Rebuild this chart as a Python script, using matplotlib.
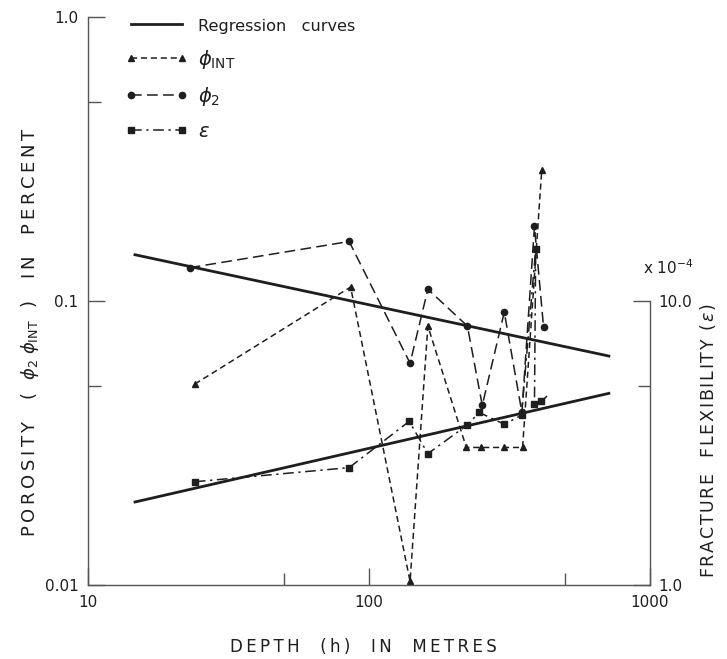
import matplotlib
matplotlib.use("Agg")
import matplotlib.pyplot as plt
from matplotlib.ticker import NullFormatter, FixedLocator
from matplotlib.lines import Line2D

plt.rcParams['font.family'] = ['DejaVu Sans']
plt.rcParams['mathtext.fontset'] = 'dejavusans'

# ---------------- data ----------------
depth_int = [24, 86, 140, 162, 222, 250, 303, 352, 412]
phi_int = [0.051, 0.112, 0.0103, 0.0816, 0.0305, 0.0305, 0.0305, 0.0305, 0.290]

depth_phi2 = [23, 85, 140, 162, 224, 253, 303, 350, 388, 418]
phi2 = [0.131, 0.162, 0.0604, 0.110, 0.0816, 0.0429, 0.0914, 0.0405, 0.183, 0.081]

depth_eps = [24, 85, 139, 162, 223, 247, 303, 349, 392, 388, 411, 436]
eps = [2.31, 2.59, 3.77, 2.90, 3.65, 4.05, 3.68, 3.96, 15.3, 4.33, 4.43, 4.69]

reg_depth = [14.7, 714]
reg_phi = [0.1455, 0.064]
reg_eps = [1.96, 4.73]

x_ticks = [10, 100, 1000]
x_ticklabels = ['10', '100', '1000']
y_ticks = [0.01, 0.1, 1.0]
y_ticklabels = ['0.01', '0.1', '1.0']
eps_ticks = [1, 10]
eps_ticklabels = ['1.0', '10.0']


def spaced(s, sp='\u2009'):
    """Letter-space the plain-text parts of a label (math parts kept intact)."""
    parts = s.split('$')
    out = []
    for i, p in enumerate(parts):
        if i % 2 == 1:
            out.append('$' + p + '$')
        else:
            out.append(sp.join(p))
    return sp.join(x for x in out if x)


# ---------------- figure ----------------
W, H = 727, 659
fig = plt.figure(figsize=(W / 100, H / 100), dpi=100)
L, R, T, B = 88, 650, 17, 585
ax = fig.add_axes([L / W, 1 - B / H, (R - L) / W, (B - T) / H])
ax2 = ax.twinx()

ink = '#1e1e1e'
spc = '#555555'

ax.set_xscale('log')
ax.set_yscale('log')
ax.set_xlim(10, 1000)
ax.set_ylim(0.01, 1.0)
ax2.set_yscale('log')
ax2.set_ylim(1, 100)

for s in ['top', 'right']:
    ax.spines[s].set_visible(False)
for s in ['top', 'left', 'bottom']:
    ax2.spines[s].set_visible(False)
ax2.spines['right'].set_bounds(1, 10)
for s in ['left', 'bottom']:
    ax.spines[s].set_color(spc)
    ax.spines[s].set_linewidth(1.0)
ax2.spines['right'].set_color(spc)
ax2.spines['right'].set_linewidth(1.0)

ax.xaxis.set_major_locator(FixedLocator(x_ticks))
ax.set_xticklabels(x_ticklabels)
ax.xaxis.set_minor_locator(FixedLocator([50, 500]))
ax.xaxis.set_minor_formatter(NullFormatter())
ax.yaxis.set_major_locator(FixedLocator(y_ticks))
ax.set_yticklabels(y_ticklabels)
ax.yaxis.set_minor_locator(FixedLocator([0.05, 0.5]))
ax.yaxis.set_minor_formatter(NullFormatter())
ax2.yaxis.set_major_locator(FixedLocator(eps_ticks))
ax2.set_yticklabels(eps_ticklabels)
ax2.yaxis.set_minor_locator(FixedLocator([5]))
ax2.yaxis.set_minor_formatter(NullFormatter())

for a in (ax, ax2):
    a.tick_params(which='major', direction='in', length=12, width=1.0,
                  color=spc, labelsize=11, labelcolor=ink)
    a.tick_params(which='minor', direction='in', length=9, width=1.0, color=spc)
ax.tick_params(axis='x', which='major', pad=7)
ax.tick_params(axis='y', which='major', pad=7)
ax2.tick_params(axis='y', which='major', pad=6)

# ---------------- data lines ----------------
lw = 1.1
ax.plot(reg_depth, reg_phi, '-', color=ink, lw=2.0)
ax2.plot(reg_depth, reg_eps, '-', color=ink, lw=2.0)
ax.plot(depth_int, phi_int, ls=(0, (4, 2.5)), color=ink, lw=lw,
        marker='^', ms=4.5, clip_on=False)
ax.plot(depth_phi2, phi2, ls=(0, (7, 3.5)), color=ink, lw=lw,
        marker='o', ms=4.5)
ax2.plot(depth_eps, eps, ls=(0, (7, 3, 1.5, 3)), color=ink, lw=lw,
         marker='s', ms=4, markevery=list(range(len(eps) - 1)))

leg_handles = [
    Line2D([], [], color=ink, lw=2.0),
    Line2D([], [], ls=(0, (4, 2.5)), color=ink, lw=lw, marker='^', ms=4),
    Line2D([], [], ls=(0, (7, 3.5)), color=ink, lw=lw, marker='o', ms=4.5),
    Line2D([], [], ls=(0, (7, 3, 1.5, 3)), color=ink, lw=lw, marker='s', ms=4),
]
leg_labels = ['Regression   curves', r'$\phi_{\rm INT}$', r'$\phi_2$', r'$\epsilon$']
leg = ax2.legend(leg_handles, leg_labels, loc='upper left',
                 bbox_to_anchor=((125 - L) / (R - L), 1.0),
                 frameon=False, numpoints=2, fontsize=14, handlelength=3.25,
                 handletextpad=0.5, labelspacing=0.72, borderpad=0, borderaxespad=0)
leg.get_texts()[0].set_fontsize(11.6)
for t in leg.get_texts():
    t.set_color(ink)

# ---------------- labels ----------------
ax.set_xlabel(spaced('DEPTH  (h)  IN  METRES'), fontsize=12, color=ink,
              va='center', ha='center')
ax.xaxis.set_label_coords(0.49, (B - 647) / (B - T))
ax.set_ylabel(spaced(r'POROSITY  ( $\phi_2\;\phi_{\rm INT}$ )  IN  PERCENT'),
              fontsize=13, color=ink, va='center', ha='center')
ax.yaxis.set_label_coords((30 - L) / (R - L), (B - 332) / (B - T))
ax2.set_ylabel(spaced(r'FRACTURE  FLEXIBILITY ($\epsilon$)', sp='\u200a'),
               fontsize=12.5, color=ink, va='center', ha='center')
ax2.yaxis.set_label_coords((708 - L) / (R - L), (B - 441) / (B - T))
ax.text((668 - L) / (R - L), (B - 268) / (B - T), r'x $10^{-4}$', transform=ax.transAxes,
        fontsize=11, color=ink, ha='center', va='center')

fig.savefig('out.png', dpi=100)
